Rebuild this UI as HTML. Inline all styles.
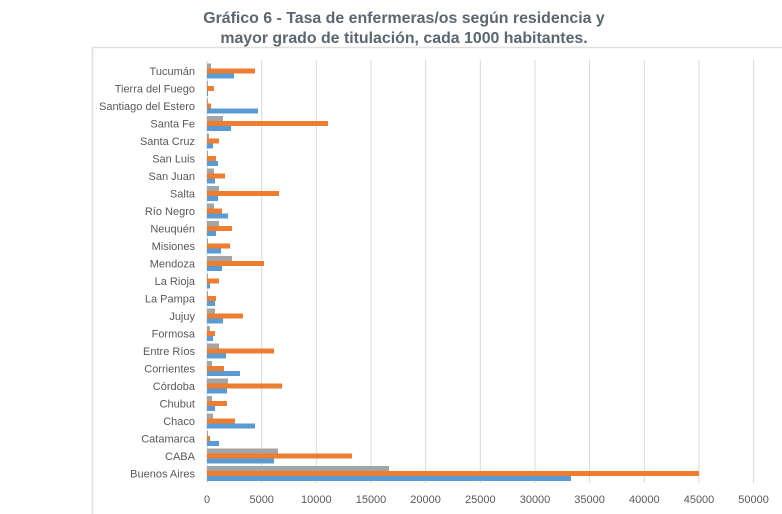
<!DOCTYPE html>
<html><head><meta charset="utf-8"><style>
html,body{margin:0;padding:0;background:#fff;}
svg{display:block;}
</style></head><body>
<svg width="782" height="514" viewBox="0 0 782 514" xmlns="http://www.w3.org/2000/svg" font-family="Liberation Sans Narrow, Liberation Sans, sans-serif">
<text x="404" y="23" text-anchor="middle" font-family="Liberation Sans, sans-serif" font-weight="bold" font-size="15.9" fill="#5a6670">Gráfico 6 - Tasa de enfermeras/os según residencia y</text>
<text x="404" y="43" text-anchor="middle" font-family="Liberation Sans, sans-serif" font-weight="bold" font-size="15.9" fill="#5a6670">mayor grado de titulación, cada 1000 habitantes.</text>
<line x1="92" y1="47.5" x2="782" y2="47.5" stroke="#e0e0e0" stroke-width="1.5"/>
<line x1="92.5" y1="47" x2="92.5" y2="514" stroke="#e0e0e0" stroke-width="1.5"/>
<g stroke="#d9d9d9" stroke-width="1">
<line x1="207" y1="60" x2="207" y2="483"/>
<line x1="261.7" y1="60" x2="261.7" y2="483"/>
<line x1="316.3" y1="60" x2="316.3" y2="483"/>
<line x1="371" y1="60" x2="371" y2="483"/>
<line x1="425.6" y1="60" x2="425.6" y2="483"/>
<line x1="480.3" y1="60" x2="480.3" y2="483"/>
<line x1="535" y1="60" x2="535" y2="483"/>
<line x1="589.6" y1="60" x2="589.6" y2="483"/>
<line x1="644.3" y1="60" x2="644.3" y2="483"/>
<line x1="699" y1="60" x2="699" y2="483"/>
<line x1="753.6" y1="60" x2="753.6" y2="483"/>
</g>
<g font-size="11" fill="#595959" text-anchor="middle">
<text x="207" y="503">0</text><text x="261.7" y="503">5000</text><text x="316.3" y="503">10000</text><text x="371" y="503">15000</text><text x="425.6" y="503">20000</text><text x="480.3" y="503">25000</text><text x="535" y="503">30000</text><text x="589.6" y="503">35000</text><text x="644.3" y="503">40000</text><text x="699" y="503">45000</text><text x="753.6" y="503">50000</text>
</g>
<g id="bars"></g>
<g id="labels" font-size="11" fill="#595959" text-anchor="end"></g>
<script>
var d=[["Tucumán",4,48,27],["Tierra del Fuego",1,7,1],["Santiago del Estero",1,4,51],["Santa Fe",16,121,24],["Santa Cruz",2,12,6],["San Luis",1,9,11],["San Juan",7,18,8],["Salta",12,72,11],["Río Negro",7,15,21],["Neuquén",12,25,9],["Misiones",1,23,14],["Mendoza",25,57,15],["La Rioja",1,12,3],["La Pampa",1,9,8],["Jujuy",8,36,16],["Formosa",3,8,6],["Entre Ríos",12,67,19],["Corrientes",5,17,33],["Córdoba",21,75,20],["Chubut",5,20,8],["Chaco",6,28,48],["Catamarca",1,3,12],["CABA",71,145,67],["Buenos Aires",182,492,364]];
var ns="http://www.w3.org/2000/svg",b=document.getElementById("bars"),l=document.getElementById("labels");
var cols=["#a5a5a5","#ed7d31","#5b9bd5"];
d.forEach(function(r,i){var c=71+i*17.5;
for(var k=0;k<3;k++){var e=document.createElementNS(ns,"rect");e.setAttribute("x",207);e.setAttribute("y",c-7.5+k*5);e.setAttribute("width",Math.max(r[k+1],1));e.setAttribute("height",5);e.setAttribute("fill",cols[k]);b.appendChild(e);}
var t=document.createElementNS(ns,"text");t.setAttribute("x",195);t.setAttribute("y",c+4);t.textContent=r[0];l.appendChild(t);});
</script>
</svg>
</body></html>
